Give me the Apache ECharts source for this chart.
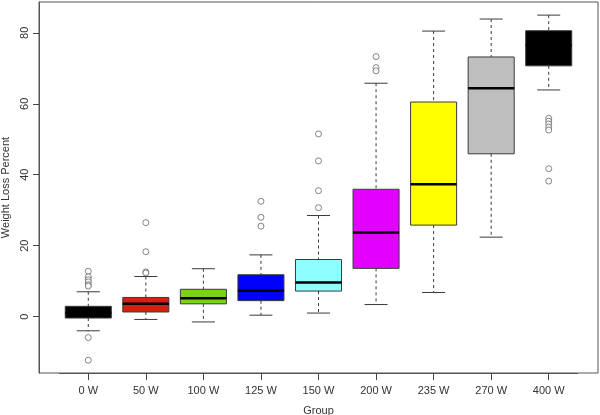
<!DOCTYPE html>
<html>
<head>
<meta charset="utf-8">
<script src="https://cdn.jsdelivr.net/npm/echarts@6/dist/echarts.min.js"></script>
<style>
  html, body { margin: 0; padding: 0; background: #fff; }
  #main { width: 600px; height: 415px; }
</style>
</head>
<body>
<div id="main"></div>
<script>
// groups along the x axis
var groups = ['0 W', '50 W', '100 W', '125 W', '150 W', '200 W', '235 W', '270 W', '400 W'];

// box stats: [lower whisker, Q1, median, Q3, upper whisker]
var boxStats = [
  [-4.0, -0.4, 1.0, 2.9, 7.0],
  [-0.8, 1.3, 3.6, 5.4, 11.3],
  [-1.5, 3.6, 5.2, 7.7, 13.5],
  [0.4, 4.5, 7.3, 11.8, 17.4],
  [1.0, 7.2, 9.6, 16.1, 28.5],
  [3.4, 13.6, 23.7, 35.9, 65.8],
  [6.8, 25.8, 37.3, 60.5, 80.5],
  [22.4, 45.9, 64.4, 73.2, 83.9],
  [63.9, 70.7, 76.5, 80.6, 85.0]
];

// outlying points per group
var outliers = [
  [12.8, 11.2, 10.4, 9.8, 9.0, 8.6, -5.9, -12.3],
  [26.5, 18.3, 12.6, 12.3],
  [],
  [32.5, 28.0, 25.5],
  [51.5, 43.9, 35.5, 30.7],
  [73.3, 70.2, 69.3],
  [],
  [],
  [55.9, 55.1, 54.3, 53.4, 52.6, 41.7, 38.2]
];

var fills = ['#000000', '#d3200f', '#7ad21a', '#0000ff', '#8ffefe', '#e300ff', '#ffff00', '#bebebe', '#000000'];

var yTicks = [0, 20, 40, 60, 80];

var boxData = boxStats.map(function (s, i) { return [i].concat(s); });
var pointData = [];
outliers.forEach(function (list, i) {
  list.forEach(function (v) { pointData.push([i, v]); });
});

function renderBox(params, api) {
  var i = api.value(0);
  var lo = api.coord([i, api.value(1)]);
  var q1 = api.coord([i, api.value(2)]);
  var med = api.coord([i, api.value(3)]);
  var q3 = api.coord([i, api.value(4)]);
  var hi = api.coord([i, api.value(5)]);
  var band = api.size([1, 0])[0];
  var half = band * 0.4;
  var cap = band * 0.2;
  var cx = med[0];
  var lineCol = '#3a3a3a';
  var dash = { stroke: lineCol, lineWidth: 1, lineDash: [3, 3] };
  var solid = { stroke: lineCol, lineWidth: 1 };
  return {
    type: 'group',
    children: [
      { type: 'line', shape: { x1: cx, y1: hi[1], x2: cx, y2: q3[1] }, style: dash },
      { type: 'line', shape: { x1: cx, y1: q1[1], x2: cx, y2: lo[1] }, style: dash },
      { type: 'line', shape: { x1: cx - cap, y1: hi[1], x2: cx + cap, y2: hi[1] }, style: solid },
      { type: 'line', shape: { x1: cx - cap, y1: lo[1], x2: cx + cap, y2: lo[1] }, style: solid },
      {
        type: 'rect',
        shape: { x: cx - half, y: q3[1], width: half * 2, height: q1[1] - q3[1] },
        style: { fill: fills[params.dataIndex], stroke: lineCol, lineWidth: 1 }
      },
      {
        type: 'line',
        shape: { x1: cx - half, y1: med[1], x2: cx + half, y2: med[1] },
        style: { stroke: '#000', lineWidth: 2.5 }
      }
    ]
  };
}

var chart = echarts.init(document.getElementById('main'));
var txt = { color: '#333', fontFamily: 'Liberation Sans, Arial, sans-serif', fontSize: 11 };

chart.setOption({
  animation: false,
  grid: [
    { left: 59.5, right: 22.5, top: 2, bottom: 42, outerBoundsMode: 'none' },
    { left: 39, right: 2, top: 2, bottom: 42, outerBoundsMode: 'none', show: true, borderColor: '#555', borderWidth: 1, backgroundColor: 'transparent' }
  ],
  xAxis: [
    {
      type: 'category',
      data: groups,
      gridIndex: 0,
      name: 'Group',
      nameLocation: 'middle',
      nameGap: 32,
      nameTextStyle: txt,
      axisLine: { show: true, onZero: false, lineStyle: { color: '#555', width: 1 } },
      axisTick: { show: true, alignWithLabel: true, length: 7, lineStyle: { color: '#444', width: 1 } },
      axisLabel: Object.assign({ margin: 12, interval: 0 }, txt),
      splitLine: { show: false }
    },
    { type: 'value', gridIndex: 1, show: false }
  ],
  yAxis: [
    {
      type: 'value',
      gridIndex: 0,
      min: -15.9,
      max: 88.7,
      offset: 20.5,
      name: 'Weight Loss Percent',
      nameLocation: 'middle',
      nameGap: 26,
      nameTextStyle: txt,
      axisLine: { show: true, onZero: false, lineStyle: { color: '#555', width: 1 } },
      axisTick: { show: true, length: 6, customValues: yTicks, lineStyle: { color: '#444', width: 1 } },
      axisLabel: Object.assign({ rotate: 90, margin: 9, customValues: yTicks }, txt),
      splitLine: { show: false }
    },
    { type: 'value', gridIndex: 1, show: false }
  ],
  series: [
    {
      type: 'custom',
      xAxisIndex: 0,
      yAxisIndex: 0,
      renderItem: renderBox,
      encode: { x: 0, y: [1, 2, 3, 4, 5] },
      data: boxData,
      z: 2
    },
    {
      type: 'scatter',
      xAxisIndex: 0,
      yAxisIndex: 0,
      symbol: 'circle',
      symbolSize: 6,
      itemStyle: { color: '#fff', borderColor: '#666', borderWidth: 1 },
      data: pointData,
      z: 3
    }
  ]
});
</script>
</body>
</html>
